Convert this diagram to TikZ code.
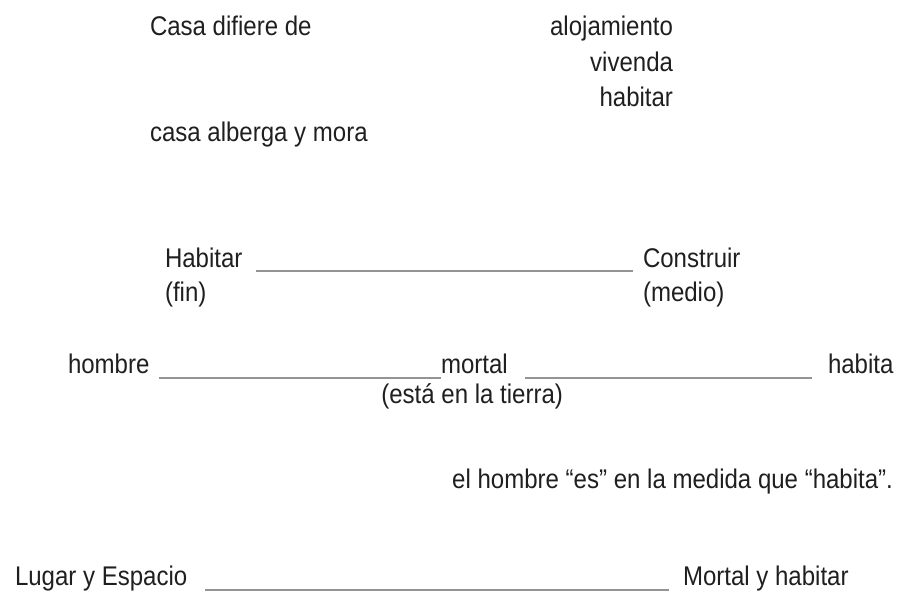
\documentclass[tikz,border=0pt]{standalone}
\usepackage{fontspec}
\setmainfont{Liberation Sans}[FakeStretch=0.89]
\begin{document}
\begin{tikzpicture}[x=1pt,y=-1pt,
  lbl/.style={inner sep=0pt,outer sep=0pt,font=\fontsize{27}{30}\selectfont,text=black!88},
  conn/.style={draw=black!42,line width=1.7pt}]
\useasboundingbox (0,0) rectangle (902,590);
% top block
\node[lbl,anchor=base west] (casa) at (150,35) {Casa difiere de};
\node[lbl,anchor=base east] (aloj) at (673,35) {alojamiento};
\node[lbl,anchor=base east] (viv) at (673,71) {vivenda};
\node[lbl,anchor=base east] (hab1) at (673,106) {habitar};
\node[lbl,anchor=base west] (alb) at (150,141) {casa alberga y mora};
% Habitar - Construir
\node[lbl,anchor=base west] (habitar) at (165,267) {Habitar};
\node[lbl,anchor=base west] (fin) at (165,301) {(fin)};
\node[lbl,anchor=base west] (construir) at (643,267) {Construir};
\node[lbl,anchor=base west] (medio) at (643,301) {(medio)};
\draw[conn] ([xshift=14pt,yshift=-4pt]habitar.base east) -- ([xshift=-10pt,yshift=-4pt]construir.base west);
% hombre - mortal - habita
\node[lbl,anchor=base west] (hombre) at (68,373) {hombre};
\node[lbl,anchor=base west] (mortal) at (441,373) {mortal};
\node[lbl,anchor=base west] (habita) at (828,373) {habita};
\node[lbl,anchor=base east] (tierra) at (563,403) {(está en la tierra)};
\draw[conn] ([xshift=10pt,yshift=-5pt]hombre.base east) -- ([yshift=-5pt]mortal.base west);
\draw[conn] ([xshift=17pt,yshift=-5pt]mortal.base east) -- ([xshift=-16pt,yshift=-5pt]habita.base west);
% sentence
\node[lbl,anchor=base east] (frase) at (893,488) {el hombre “es” en la medida que “habita”.};
% bottom
\node[lbl,anchor=base west] (lugar) at (15,585) {Lugar y Espacio};
\node[lbl,anchor=base west] (mh) at (683,585) {Mortal y habitar};
\draw[conn] ([xshift=18pt,yshift=-5pt]lugar.base east) -- ([xshift=-14pt,yshift=-5pt]mh.base west);
\end{tikzpicture}
\end{document}
